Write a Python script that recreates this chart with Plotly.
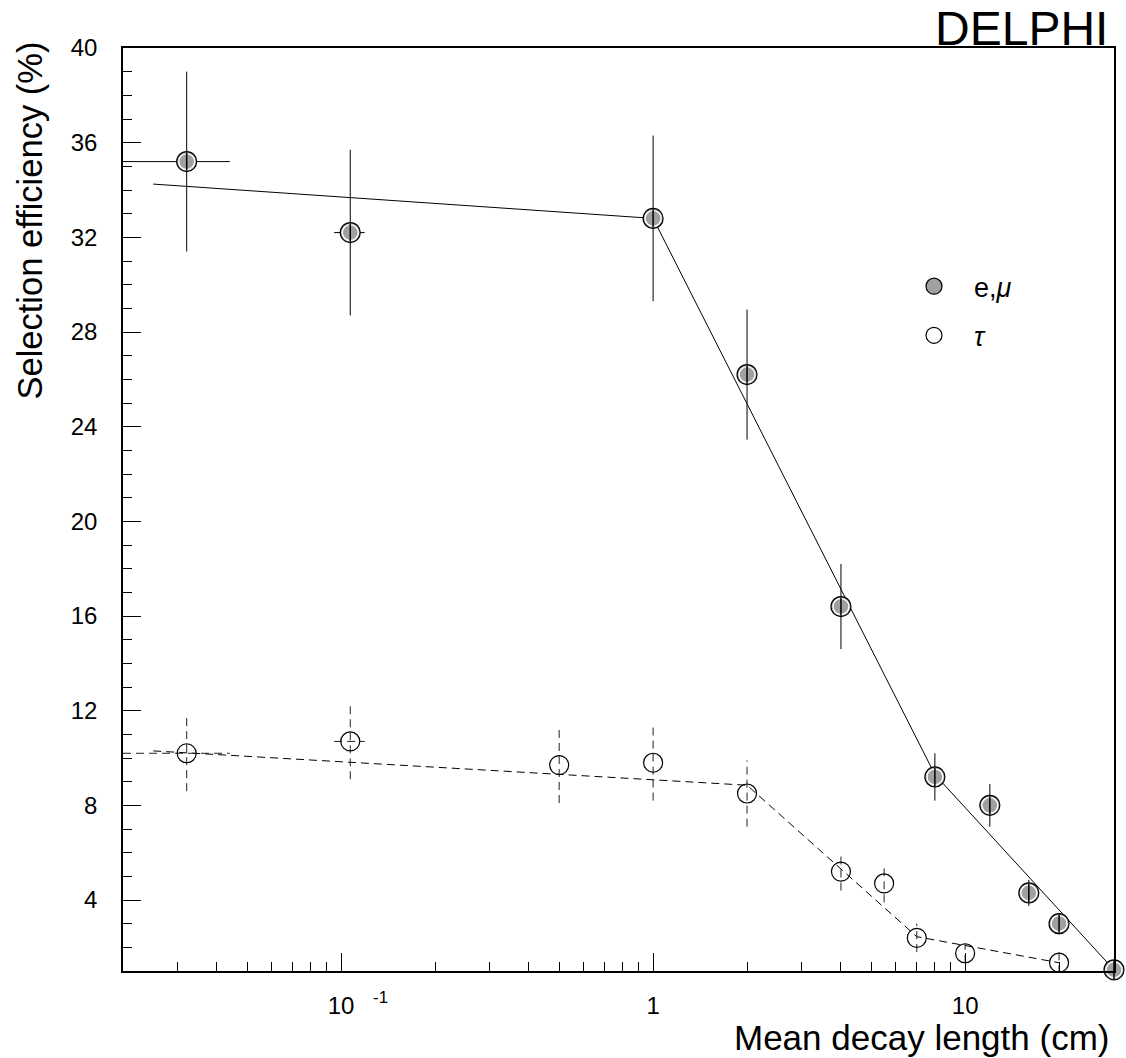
import math
import plotly.graph_objects as go

# ---------------- data ----------------
# e, mu selection efficiency (%) vs mean decay length (cm)
emu_x = [0.032, 0.107, 1.0, 2.0, 4.0, 8.0, 12.0, 16.0, 20.0, 30.0]
emu_y = [35.2, 32.2, 32.8, 26.2, 16.4, 9.2, 8.0, 4.3, 3.0, 1.05]
emu_yerr = [3.8, 3.5, 3.5, 2.75, 1.8, 1.0, 0.9, 0.55, 0.45, 0.0]
emu_xerr = [0.012, 0.012, 0, 0, 0, 0, 0, 0, 0, 0]

# tau selection efficiency (%)
tau_x = [0.032, 0.107, 0.5, 1.0, 2.0, 4.0, 5.5, 7.0, 10.0, 20.0]
tau_y = [10.2, 10.7, 9.7, 9.8, 8.5, 5.2, 4.7, 2.4, 1.75, 1.35]
tau_yerr = [1.6, 1.6, 1.6, 1.6, 1.4, 0.8, 0.8, 0.6, 0.4, 0.45]
tau_xerr = [0.012, 0.012, 0, 0, 0, 0, 0, 0, 0, 0]

# guiding curves (piecewise)
fit_emu_x = [0.025, 1.0, 8.0, 30.0]
fit_emu_y = [34.25, 32.8, 9.3, 1.05]
fit_tau_x = [0.025, 2.0, 7.0, 20.0]
fit_tau_y = [10.3, 8.85, 2.45, 1.35]

# axes
x_range = [0.02, 30]
y_range = [1, 40]
SUP = "&nbsp;&nbsp;&nbsp;&nbsp;-1"
x_tick_vals = [0.1, 1, 10]
x_tick_text = ["<span style='color:rgba(0,0,0,0)'><sup>" + SUP + "</sup></span>10<sup>" + SUP + "</sup>",
               "1", "10"]
x_minor_vals = [0.02, 0.03, 0.04, 0.05, 0.06, 0.07, 0.08, 0.09,
                0.2, 0.3, 0.4, 0.5, 0.6, 0.7, 0.8, 0.9,
                2, 3, 4, 5, 6, 7, 8, 9, 20, 30]
y_tick_vals = [4, 8, 12, 16, 20, 24, 28, 32, 36, 40]

FONT = "Liberation Sans, Arial, Helvetica, sans-serif"


def err_segments(x, y, xerr, yerr):
    vx, vy, hx, hy = [], [], [], []
    for xi, yi, ex, ey in zip(x, y, xerr, yerr):
        if ey > 0:
            vx += [xi, xi, None]
            vy += [yi - ey, yi + ey, None]
        if ex > 0:
            hx += [xi - ex, xi + ex, None]
            hy += [yi, yi, None]
    return vx, vy, hx, hy


fig = go.Figure()

# guiding curves
fig.add_trace(go.Scatter(x=fit_emu_x, y=fit_emu_y, mode="lines",
                         line=dict(color="black", width=1), showlegend=False,
                         hoverinfo="skip"))
fig.add_trace(go.Scatter(x=fit_tau_x, y=fit_tau_y, mode="lines",
                         line=dict(color="black", width=1, dash="8px,5px"),
                         showlegend=False, hoverinfo="skip"))

# error bars
vx, vy, hx, hy = err_segments(emu_x, emu_y, emu_xerr, emu_yerr)
fig.add_trace(go.Scatter(x=vx + hx, y=vy + hy, mode="lines",
                         line=dict(color="black", width=1), showlegend=False,
                         hoverinfo="skip"))
vx, vy, hx, hy = err_segments(tau_x, tau_y, tau_xerr, tau_yerr)
fig.add_trace(go.Scatter(x=vx + hx, y=vy + hy, mode="lines",
                         line=dict(color="#222222", width=1, dash="8px,5px"),
                         showlegend=False, hoverinfo="skip"))

# e, mu markers (hatched-looking circle)
fig.add_trace(go.Scatter(x=emu_x, y=emu_y, mode="markers", name="e,<i>μ</i>",
                         marker=dict(symbol="circle", size=20, color="#a0a0a0",
                                     line=dict(color="black", width=1.2)),
                         cliponaxis=False, legendgroup="a"))
fig.add_trace(go.Scatter(x=emu_x, y=emu_y, mode="markers", showlegend=False,
                         marker=dict(symbol="circle-open", size=16, color="white",
                                     line=dict(color="white", width=1.4)),
                         cliponaxis=False, hoverinfo="skip"))
fig.add_trace(go.Scatter(x=emu_x, y=emu_y, mode="markers", showlegend=False,
                         marker=dict(symbol="line-ns", size=13,
                                     line=dict(color="black", width=1.5)),
                         cliponaxis=False, hoverinfo="skip"))
# tau markers (open circle)
fig.add_trace(go.Scatter(x=tau_x, y=tau_y, mode="markers", name="<i>τ</i>",
                         marker=dict(symbol="circle-open", size=19, color="black",
                                     line=dict(color="black", width=1.2)),
                         cliponaxis=False, legendgroup="b"))

fig.update_layout(
    width=1126, height=1058,
    margin=dict(l=123, r=12, t=48, b=87),
    paper_bgcolor="white", plot_bgcolor="white",
    font=dict(family=FONT, color="black", size=22),
    showlegend=True,
    legend=dict(x=0.778, y=0.768, xanchor="left", yanchor="top",
                bgcolor="rgba(0,0,0,0)", font=dict(size=27, family=FONT),
                tracegroupgap=11, itemsizing="trace", itemwidth=70),
    xaxis=dict(type="log", range=[math.log10(x_range[0]), math.log10(x_range[1])],
               tickmode="array", tickvals=x_tick_vals, ticktext=x_tick_text,
               ticks="inside", ticklen=18, tickwidth=1, tickcolor="black",
               minor=dict(tickmode="array", tickvals=x_minor_vals, ticks="inside",
                          ticklen=9, tickwidth=1, tickcolor="black"),
               showgrid=False, zeroline=False, showline=True, mirror=True,
               linecolor="black", linewidth=1.5, automargin=False,
               tickfont=dict(size=24, family=FONT), ticklabelstandoff=12),
    yaxis=dict(range=y_range, tickmode="array", tickvals=y_tick_vals,
               ticks="inside", ticklen=18, tickwidth=1, tickcolor="black",
               minor=dict(dtick=1, tick0=0, ticks="inside", ticklen=9,
                          tickwidth=1, tickcolor="black"),
               showgrid=False, zeroline=False, showline=True, mirror=True,
               linecolor="black", linewidth=1.5, automargin=False,
               tickfont=dict(size=24, family=FONT), ticklabelstandoff=19),
    annotations=[
        dict(text="Selection efficiency (%)", textangle=-90, xref="paper",
             yref="paper", x=-0.094, y=1.009, xanchor="center", yanchor="top",
             showarrow=False, font=dict(size=34.5, family=FONT)),
        dict(text="Mean decay length (cm)", xref="paper", yref="paper",
             x=0.997, y=-0.072, xanchor="right", yanchor="middle",
             showarrow=False, font=dict(size=35, family=FONT)),
        dict(text="DELPHI", xref="paper", yref="paper", x=0.996, y=1.021,
             xanchor="right", yanchor="middle", showarrow=False,
             font=dict(size=48, family=FONT)),
    ],
)

fig.write_html("out.html", config={"displayModeBar": False},
               post_script="document.body.style.margin='0';document.body.style.padding='0';")
